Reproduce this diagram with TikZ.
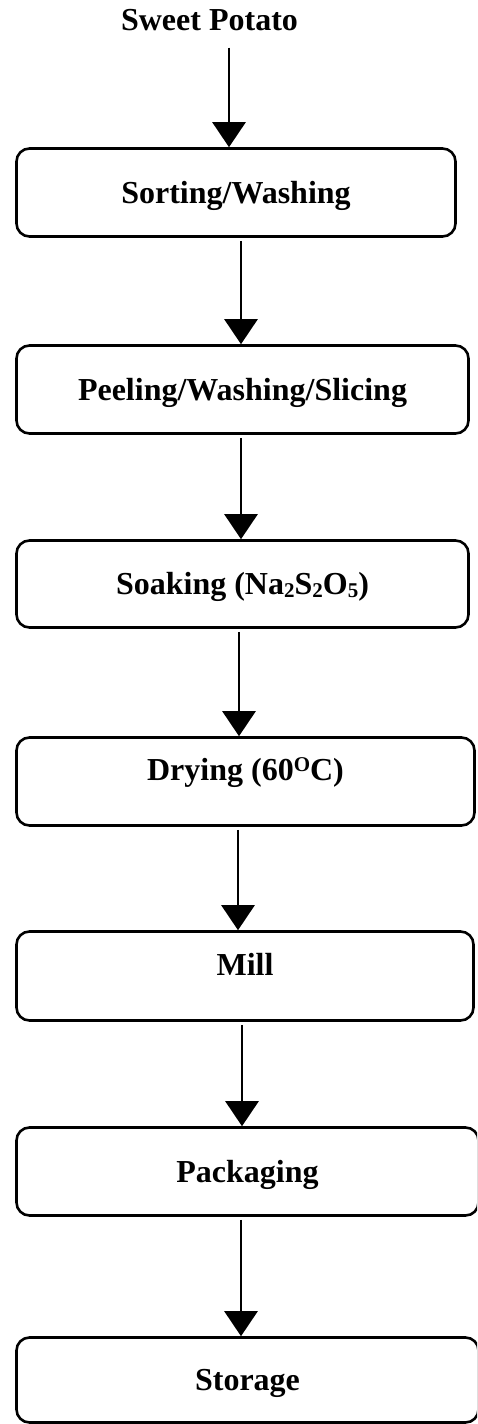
\documentclass[tikz,border=0pt]{standalone}
\usepackage{fontspec}
\setmainfont{Liberation Serif}
\usetikzlibrary{arrows.meta}
\newcommand{\sbs}[1]{\raisebox{-2.5pt}{\fontsize{21}{21}\selectfont #1}}
\newcommand{\sps}[1]{\raisebox{9pt}{\fontsize{21}{21}\selectfont #1}}
\tikzset{
  x=1pt, y=-1pt,
  procbox/.style={draw, line width=2.6pt, rounded corners=13pt, inner sep=0pt,
    font=\fontsize{32}{36}\selectfont\bfseries, align=center,
    text height=21pt, text depth=0pt},
  highbox/.style={procbox, text depth=23pt},
  arr/.style={line width=2.6pt, -{Triangle[length=25pt,width=33pt]}, shorten <=3pt},
  lbl/.style={font=\fontsize{32}{36}\selectfont\bfseries, inner sep=0pt, anchor=base}
}
\begin{document}
\begin{tikzpicture}
\useasboundingbox (0,0) rectangle (477,1424);
\clip (0,0) rectangle (477,1424);
\node[lbl] (sp) at (209.5,30) {Sweet Potato};
\node[procbox, minimum width=439pt, minimum height=88pt] (b1) at (236,192.5) {Sorting/Washing};
\node[procbox, minimum width=452pt, minimum height=88pt] (b2) at (242.5,389.5) {Peeling/Washing/Slicing};
\node[procbox, minimum width=452pt, minimum height=87pt] (b3) at (242.5,584) {Soaking (Na\sbs{2}S\sbs{2}O\sbs{5})};
\node[highbox, minimum width=458pt, minimum height=88pt] (b4) at (245.5,781.5) {Drying (60\sps{O}C)};
\node[highbox, minimum width=457pt, minimum height=89pt] (b5) at (245,976) {Mill};
\node[procbox, minimum width=462pt, minimum height=88pt] (b6) at (247.5,1171.5) {Packaging};
\node[procbox, minimum width=462pt, minimum height=85pt] (b7) at (247.5,1380) {Storage};
\draw[arr] ([xshift=-7pt, yshift=-14pt]sp.south -| b1.north) -- ([xshift=-7pt]b1.north);
\draw[arr] ([xshift=-1.5pt]b2.north |- b1.south) -- ([xshift=-1.5pt]b2.north);
\draw[arr] ([xshift=-1.5pt]b3.north |- b2.south) -- ([xshift=-1.5pt]b3.north);
\draw[arr] ([xshift=-6.5pt]b4.north |- b3.south) -- ([xshift=-6.5pt]b4.north);
\draw[arr] ([xshift=-7pt]b5.north |- b4.south) -- ([xshift=-7pt]b5.north);
\draw[arr] ([xshift=-5.5pt]b6.north |- b5.south) -- ([xshift=-5.5pt]b6.north);
\draw[arr] ([xshift=-6.5pt]b7.north |- b6.south) -- ([xshift=-6.5pt]b7.north);
\end{tikzpicture}
\end{document}
